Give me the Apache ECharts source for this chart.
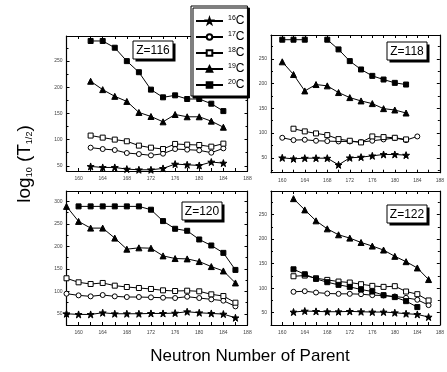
<!DOCTYPE html>
<html>
<head>
<meta charset="utf-8">
<script src="https://cdn.jsdelivr.net/npm/echarts@6/dist/echarts.min.js"></script>
<style>
  html, body { margin: 0; padding: 0; background: #fff; }
  #box1 { width: 447px; height: 372px; }
</style>
</head>
<body>
<div id="box1"></div>
<script>
var chart = echarts.init(document.getElementById('box1'));

// isotopes (legend)
var isotopes = ['16C', '17C', '18C', '19C', '20C'];

// Z=116, neutron number of parent 162..184
var n116 = [162, 164, 166, 168, 170, 172, 174, 176, 178, 180, 182, 184];
var c16_116 = [48.7, 46.8, 46.8, 43.6, 42.3, 42.3, 44.9, 53.2, 51.9, 50.6, 57.1, 55.1];
var c17_116 = [84.6, 82.0, 80.1, 74.4, 72.4, 69.9, 73.1, 82.0, 80.8, 79.5, 75.0, 83.3];
var c18_116 = [107.7, 103.8, 100.0, 96.8, 88.5, 84.6, 82.0, 91.7, 90.4, 89.7, 86.5, 92.3];
var c19_116 = [211.5, 195.5, 182.7, 173.0, 151.9, 144.2, 134.0, 148.0, 143.6, 143.6, 135.3, 123.7];
var c20_116 = [288.5, 288.5, 275.6, 250.0, 228.8, 195.5, 180.8, 184.6, 177.6, 177.6, 168.6, 154.5];

// Z=118, 160..184
var n118 = [160, 162, 164, 166, 168, 170, 172, 174, 176, 178, 180, 182, 184];
var c16_118 = [50.0, 48.0, 49.3, 49.3, 49.3, 35.8, 50.0, 51.4, 54.0, 56.8, 56.8, 55.4, null];
var c17_118 = [90.5, 85.8, 86.5, 84.5, 83.8, 83.1, 83.1, 81.8, 84.5, 87.2, 89.9, 85.8, 93.2];
var c18_118 = [null, 108.8, 103.4, 99.3, 95.9, 87.8, 84.5, 81.1, 93.2, 91.9, 90.5, 87.2, null];
var c19_118 = [243.9, 218.2, 185.1, 198.0, 195.3, 181.8, 171.6, 164.9, 159.5, 149.3, 146.6, 140.5, null];
var c20_118 = [288.5, 288.5, 288.5, null, 288.5, 268.9, 245.3, 228.4, 215.5, 208.1, 201.4, 198.0, null];

// Z=120, 158..186
var n120 = [158, 160, 162, 164, 166, 168, 170, 172, 174, 176, 178, 180, 182, 184, 186];
var c16_120 = [50.0, 48.5, 48.5, 52.2, 50.0, 50.0, 50.0, 50.7, 50.7, 51.5, 54.5, 52.2, 50.7, 49.3, 41.0];
var c17_120 = [94.6, 90.9, 88.7, 91.7, 88.7, 87.2, 87.2, 86.5, 85.7, 85.0, 87.9, 85.0, 82.0, 79.1, 66.4];
var c18_120 = [128.9, 119.9, 116.2, 118.5, 112.5, 109.5, 107.3, 105.1, 102.1, 100.6, 101.3, 99.9, 93.2, 89.4, 74.6];
var c19_120 = [288.8, 255.4, 240.5, 240.5, 218.2, 193.6, 196.6, 195.8, 178.7, 172.8, 172.0, 166.1, 154.9, 145.2, 118.5];
var c20_120 = [null, 288.8, 288.8, 288.8, 288.8, 288.8, 288.8, 281.4, 256.1, 239.0, 234.5, 215.2, 201.8, 185.4, 147.5];

// Z=122, 162..186
var n122 = [162, 164, 166, 168, 170, 172, 174, 176, 178, 180, 182, 184, 186];
var c16_122 = [51.4, 53.4, 52.7, 52.0, 52.0, 52.7, 52.0, 51.4, 51.4, 50.0, 48.0, 46.6, 41.2];
var c17_122 = [92.6, 93.9, 91.2, 89.2, 88.5, 88.5, 87.8, 85.8, 85.1, 83.1, 80.4, 76.4, 65.5];
var c18_122 = [124.3, 125.7, 120.3, 116.9, 113.5, 111.5, 108.1, 104.7, 102.7, 104.1, 93.2, 87.8, 75.0];
var c19_122 = [282.4, 259.5, 237.2, 220.9, 208.8, 202.0, 193.2, 185.8, 177.7, 164.9, 154.0, 141.2, 117.6];
var c20_122 = [138.5, 128.4, 118.9, 112.2, 106.8, 102.7, 97.3, 93.2, 85.8, 81.8, 73.6, 61.5, null];

var panels = [
  { z: 'Z=116', n: n116, ys: [c16_116, c17_116, c18_116, c19_116, c20_116], yr: [40, 298] },
  { z: 'Z=118', n: n118, ys: [c16_118, c17_118, c18_118, c19_118, c20_118], yr: [20, 298] },
  { z: 'Z=120', n: n120, ys: [c16_120, c17_120, c18_120, c19_120, c20_120], yr: [25, 323] },
  { z: 'Z=122', n: n122, ys: [c16_122, c17_122, c18_122, c19_122, c20_122], yr: [25, 298] }
];

var grids = [
  { left: 66.5, top: 36, width: 181, height: 135 },
  { left: 271, top: 35, width: 179.5, height: 137.7 },
  { left: 66.5, top: 191, width: 181, height: 134 },
  { left: 271, top: 191, width: 179.5, height: 134 }
];
// Z label boxes
var zBoxes = [[133, 41], [387, 42], [182, 202], [387, 205]];

var star = 'path://M0,-10L2.35,-3.24L9.51,-3.09L3.8,1.24L5.88,8.09L0,4L-5.88,8.09L-3.8,1.24L-9.51,-3.09L-2.35,-3.24Z';
var marks = [
  { symbol: star, size: 7, fill: '#000' },
  { symbol: 'circle', size: 5, fill: '#fff' },
  { symbol: 'rect', size: 5, fill: '#fff' },
  { symbol: 'triangle', size: 6, fill: '#000' },
  { symbol: 'rect', size: 5, fill: '#000' }
];

var axLine = { show: true, onZero: false, lineStyle: { color: '#000', width: 1.2 } };
var xAxes = [], yAxes = [], series = [], graphics = [];

panels.forEach(function(p, i) {
  ['bottom', 'top'].forEach(function(pos) {
    xAxes.push({
      type: 'value', gridIndex: i, position: pos, min: 158, max: 188, interval: 2,
      axisLine: axLine,
      axisTick: { show: true, inside: true, length: 3, lineStyle: { color: '#000' } },
      axisLabel: {
        show: pos === 'bottom', fontSize: 5, color: '#444', margin: 5,
        formatter: function(v) { return v % 4 === 0 ? v : ''; }
      },
      splitLine: { show: false }
    });
  });
  ['left', 'right'].forEach(function(pos) {
    yAxes.push({
      type: 'value', gridIndex: i, position: pos, min: p.yr[0], max: p.yr[1], splitNumber: 5,
      axisLine: axLine,
      axisTick: { show: true, inside: true, length: 3, lineStyle: { color: '#000' } },
      minorTick: { show: true, splitNumber: 2, length: 2, lineStyle: { color: '#000' } },
      axisLabel: {
        show: pos === 'left', fontSize: 5, color: '#444', margin: 4,
        formatter: function(v) { return v % 50 === 0 ? v : ''; }
      },
      splitLine: { show: false }
    });
  });
  p.ys.forEach(function(ys, k) {
    var m = marks[k];
    series.push({
      name: isotopes[k], type: 'line', xAxisIndex: 2 * i, yAxisIndex: 2 * i,
      data: p.n.map(function(x, j) { return [x, ys[j]]; }),
      symbol: m.symbol, symbolSize: m.size, showSymbol: true,
      lineStyle: { color: '#000', width: 1 },
      itemStyle: { color: m.fill, borderColor: '#000', borderWidth: 1 },
      emphasis: { disabled: true },
      animation: false
    });
  });
  // Z=... box with hard shadow
  graphics.push({
    type: 'group', x: zBoxes[i][0], y: zBoxes[i][1], z: 10,
    children: [
      { type: 'rect', shape: { x: 2.5, y: 2.5, width: 40, height: 18 }, style: { fill: '#000' } },
      { type: 'rect', shape: { x: 0, y: 0, width: 40, height: 18 }, style: { fill: '#fff', stroke: '#000', lineWidth: 1 } },
      { type: 'text', x: 20, y: 9.5, style: { text: p.z, fontSize: 12, fontFamily: 'Liberation Sans', fill: '#000', align: 'center', verticalAlign: 'middle' } }
    ]
  });
});

// axis titles
graphics.push({
  type: 'text', x: 25, y: 164, rotation: Math.PI / 2,
  style: {
    text: '{m|log}{s|10}{m| (T}{s|1/2}{m|)}',
    align: 'center', verticalAlign: 'middle', fill: '#000',
    rich: {
      m: { fontSize: 19, fontFamily: 'Liberation Sans' },
      s: { fontSize: 9, fontFamily: 'Liberation Sans', verticalAlign: 'bottom' }
    }
  }
});
graphics.push({
  type: 'text', x: 250, y: 356,
  style: { text: 'Neutron Number of Parent', fontSize: 17, fontFamily: 'Liberation Sans', fill: '#000', align: 'center', verticalAlign: 'middle' }
});

var option = {
  textStyle: { fontFamily: 'Liberation Sans' },
  animation: false,
  grid: grids,
  xAxis: xAxes,
  yAxis: yAxes,
  legend: {
    data: isotopes, orient: 'vertical', left: 191, top: 6,
    padding: [9, 3, 5, 4], itemGap: 4, itemWidth: 27, itemHeight: 7,
    backgroundColor: '#fff', borderColor: '#000', borderWidth: 1,
    shadowColor: '#000', shadowOffsetX: 2, shadowOffsetY: 2, shadowBlur: 0,
    selectedMode: false, z: 20,
    formatter: function(name) { return '{s|' + name.slice(0, 2) + '}{c|C}'; },
    textStyle: {
      rich: {
        s: { fontSize: 7, verticalAlign: 'top', color: '#000' },
        c: { fontSize: 12, color: '#000', lineHeight: 12 }
      }
    }
  },
  series: series,
  graphic: graphics
};
chart.setOption(option);
</script>
</body>
</html>
